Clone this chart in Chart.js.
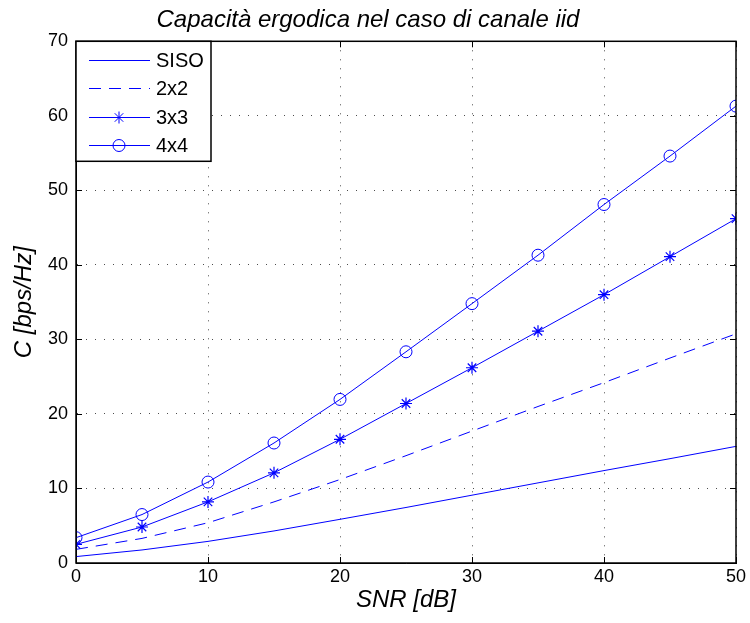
<!DOCTYPE html>
<html>
<head>
<meta charset="utf-8">
<script src="https://cdn.jsdelivr.net/npm/chart.js@4"></script>
<style>
  body { margin: 0; background: #fff; }
  #wrap { width: 750px; height: 623px; }
</style>
</head>
<body>
<div id="wrap"><canvas id="capChart" width="750" height="623"></canvas></div>
<script>
// data
const snr = [0, 5, 10, 15, 20, 25, 30, 35, 40, 45, 50];
const siso = [0.86, 1.75, 2.9, 4.3, 5.86, 7.45, 9.1, 10.75, 12.4, 14.0, 15.65];
const mimo2 = [1.83, 3.3, 5.4, 8.2, 11.2, 14.4, 17.7, 21.0, 24.2, 27.5, 30.75];
const mimo3 = [2.5, 4.83, 8.2, 12.1, 16.6, 21.4, 26.2, 31.1, 36.0, 41.1, 46.2];
const mimo4 = [3.4, 6.5, 10.86, 16.1, 21.95, 28.34, 34.8, 41.3, 48.1, 54.6, 61.3];
const seriesNames = ["SISO", "2x2", "3x3", "4x4"];

const BLUE = "#0000ff";
const FONT = "'Liberation Sans', Arial, Helvetica, sans-serif";

function toPoints(ys) {
    return snr.map((x, i) => ({ x: x, y: ys[i] }));
}

function drawMarker(ctx, style, x, y, r) {
    ctx.beginPath();
    if (style === "circle") {
        ctx.arc(x, y, r, 0, Math.PI * 2);
    } else if (style === "star") {
        for (let k = 0; k < 4; k++) {
            const a = k * Math.PI / 4;
            ctx.moveTo(x - r * Math.cos(a), y - r * Math.sin(a));
            ctx.lineTo(x + r * Math.cos(a), y + r * Math.sin(a));
        }
    }
    ctx.stroke();
}

// box, inward ticks and legend in the top-left corner
const framePlugin = {
    id: "frame",
    afterDraw(chart) {
        const ctx = chart.ctx;
        const a = chart.chartArea;
        const xs = chart.scales.x;
        const ys = chart.scales.y;
        ctx.save();
        ctx.strokeStyle = "#000";
        ctx.lineWidth = 1;
        ctx.setLineDash([]);
        ctx.beginPath();
        xs.ticks.forEach(t => {
            const px = Math.round(xs.getPixelForValue(t.value)) + 0.5;
            ctx.moveTo(px, a.bottom); ctx.lineTo(px, a.bottom - 6);
            ctx.moveTo(px, a.top); ctx.lineTo(px, a.top + 6);
        });
        ys.ticks.forEach(t => {
            const py = Math.round(ys.getPixelForValue(t.value)) + 0.5;
            ctx.moveTo(a.left, py); ctx.lineTo(a.left + 6, py);
            ctx.moveTo(a.right, py); ctx.lineTo(a.right - 6, py);
        });
        ctx.stroke();
        ctx.lineWidth = 1.5;
        ctx.strokeRect(a.left, a.top, a.right - a.left, a.bottom - a.top);

        // legend
        const lx = a.left, ly = a.top;
        const lw = 135, lh = 120;
        ctx.fillStyle = "#fff";
        ctx.fillRect(lx, ly, lw, lh);
        ctx.strokeRect(lx, ly, lw, lh);
        ctx.font = "20px " + FONT;
        ctx.textBaseline = "middle";
        chart.data.datasets.forEach((ds, i) => {
            const y = Math.round(ly + 19 + i * 28.1) + 0.5;
            ctx.strokeStyle = ds.borderColor;
            ctx.lineWidth = 1;
            ctx.setLineDash(ds.borderDash || []);
            ctx.beginPath();
            ctx.moveTo(lx + 13, y); ctx.lineTo(lx + 74, y);
            ctx.stroke();
            ctx.setLineDash([]);
            if (ds.pointRadius > 0) drawMarker(ctx, ds.pointStyle, lx + 43, y, ds.pointRadius);
            ctx.fillStyle = "#000";
            ctx.fillText(ds.label, lx + 80, y + 1);
        });
        ctx.restore();
    }
};

new Chart(document.getElementById("capChart"), {
    type: "line",
    data: {
        datasets: [
            { label: seriesNames[0], data: toPoints(siso), borderColor: BLUE, borderWidth: 1, pointRadius: 0 },
            { label: seriesNames[1], data: toPoints(mimo2), borderColor: BLUE, borderWidth: 1, pointRadius: 0, borderDash: [12, 8] },
            { label: seriesNames[2], data: toPoints(mimo3), borderColor: BLUE, borderWidth: 1, pointRadius: 6,
              pointStyle: "star", pointBorderColor: BLUE, pointBorderWidth: 1.2 },
            { label: seriesNames[3], data: toPoints(mimo4), borderColor: BLUE, borderWidth: 1, pointRadius: 6,
              pointStyle: "circle", pointBorderColor: BLUE, pointBackgroundColor: "rgba(0,0,0,0)", pointBorderWidth: 1 }
        ]
    },
    options: {
        responsive: false,
        animation: false,
        layout: { padding: { left: 0, right: 14, top: 0, bottom: 0 } },
        plugins: {
            legend: { display: false },
            tooltip: { enabled: false },
            title: {
                display: true,
                text: "Capacità ergodica nel caso di canale iid",
                color: "#000",
                font: { family: FONT, size: 24, style: "italic", weight: "normal" },
                padding: { top: 6, bottom: 6.5 }
            }
        },
        scales: {
            x: {
                type: "linear",
                min: 0, max: 50,
                afterFit: s => { s.height = 60; },
                ticks: { stepSize: 10, color: "#000", padding: 3, font: { family: FONT, size: 18 } },
                grid: { color: "rgba(0,0,0,0.7)", drawTicks: false },
                border: { color: "#000", dash: [1, 8] },
                title: {
                    display: true, text: "SNR [dB]", color: "#000",
                    font: { family: FONT, size: 24, style: "italic" },
                    padding: { top: 0, bottom: 8 }
                }
            },
            y: {
                min: 0, max: 70,
                afterFit: s => { s.width = 76; },
                ticks: { stepSize: 10, color: "#000", padding: 8, font: { family: FONT, size: 18 } },
                grid: { color: "rgba(0,0,0,0.7)", drawTicks: false },
                border: { color: "#000", dash: [1, 8] },
                title: {
                    display: true, text: "C [bps/Hz]", color: "#000",
                    font: { family: FONT, size: 24, style: "italic" },
                    padding: { top: 10, bottom: 0 }
                }
            }
        }
    },
    plugins: [framePlugin]
});
</script>
</body>
</html>
